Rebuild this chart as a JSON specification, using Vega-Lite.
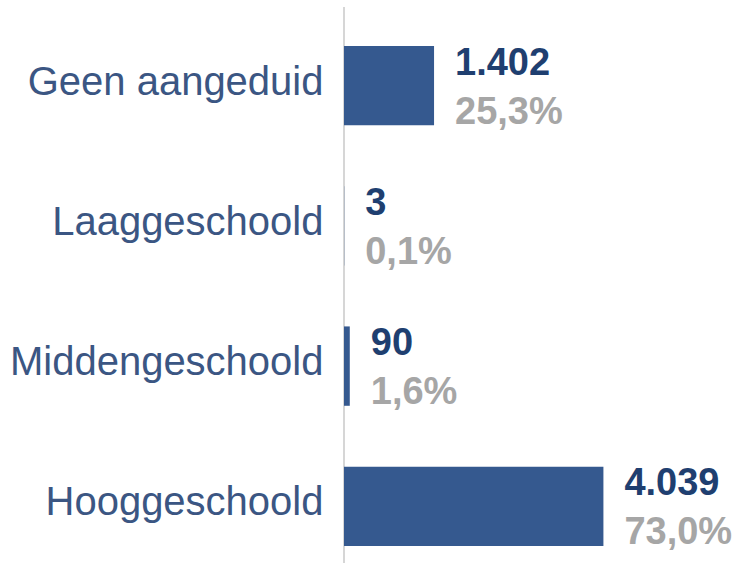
{
  "$schema": "https://vega.github.io/schema/vega-lite/v6.json",
  "autosize": {"type": "none"},
  "padding": {"left": 344, "top": 7, "right": 0, "bottom": 0},
  "width": 395,
  "height": 556,
  "background": "white",
  "config": {"view": {"stroke": null}},
  "data": {
    "values": [
      {"cat": "Geen aangeduid", "n": 1402, "nLabel": "1.402", "pctLabel": "25,3%"},
      {"cat": "Laaggeschoold", "n": 3, "nLabel": "3", "pctLabel": "0,1%"},
      {"cat": "Middengeschoold", "n": 90, "nLabel": "90", "pctLabel": "1,6%"},
      {"cat": "Hooggeschoold", "n": 4039, "nLabel": "4.039", "pctLabel": "73,0%"}
    ]
  },
  "layer": [
    {
      "data": {"values": [{}]},
      "mark": {"type": "rule", "color": "#d6d6d6", "strokeWidth": 2},
      "encoding": {"x": {"datum": 0, "type": "quantitative", "scale": {"domain": [0, 6150], "nice": false}, "axis": null}}
    },
    {
      "mark": {"type": "bar", "color": "#35598f"},
      "encoding": {
        "y": {"field": "cat", "type": "nominal", "sort": null,
          "scale": {"range": [39, 539], "paddingInner": 0.434, "paddingOuter": 0},
          "axis": {"title": null, "domain": false, "ticks": false, "labelFontSize": 40, "labelFont": "Liberation Sans", "labelColor": "#3b5683", "labelPadding": 21, "labelLimit": 400, "labelOffset": -3}},
        "x": {"field": "n", "type": "quantitative", "scale": {"domain": [0, 6150], "nice": false}, "axis": null}
      }
    },
    {
      "mark": {"type": "text", "align": "left", "baseline": "middle", "dx": 21, "dy": -22, "font": "Liberation Sans", "fontSize": 38, "fontWeight": "bold", "color": "#1f3f70"},
      "encoding": {
        "y": {"field": "cat", "type": "nominal", "sort": null},
        "x": {"field": "n", "type": "quantitative"},
        "text": {"field": "nLabel"}
      }
    },
    {
      "mark": {"type": "text", "align": "left", "baseline": "middle", "dx": 21, "dy": 27, "font": "Liberation Sans", "fontSize": 38, "fontWeight": "bold", "color": "#a6a6a6"},
      "encoding": {
        "y": {"field": "cat", "type": "nominal", "sort": null},
        "x": {"field": "n", "type": "quantitative"},
        "text": {"field": "pctLabel"}
      }
    }
  ]
}
